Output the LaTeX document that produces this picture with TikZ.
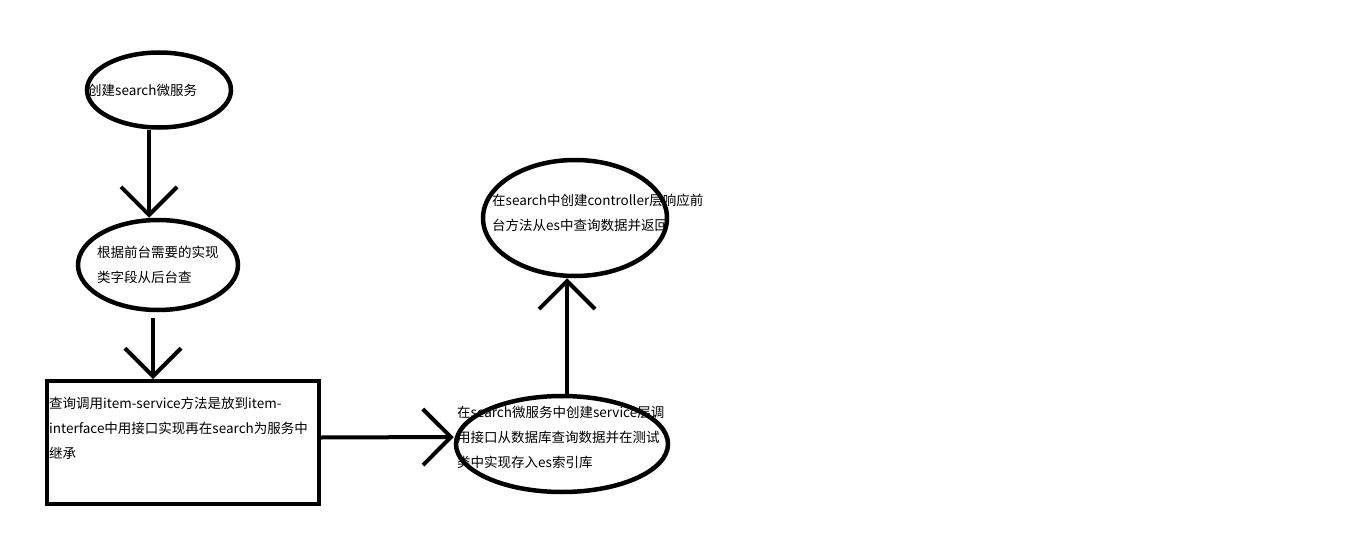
\documentclass[tikz,border=0pt]{standalone}
\usepackage{fontspec}
\setmainfont{Noto Sans CJK SC}
\usepackage{tikz}
\usetikzlibrary{shapes.geometric,arrows.meta}

\begin{document}
\begin{tikzpicture}[x=1pt,y=-1pt,oval/.style n args={2}{ellipse,draw,line width=4.5pt,minimum width=#1pt,minimum height=#2pt,inner sep=0pt},txt/.style={anchor=west,inner sep=0pt,align=left,font=\fontsize{13.5}{25}\selectfont},arr/.style={line width=4pt,-{Straight Barb[length=28pt,width=56pt,line width=4pt]}}]
\useasboundingbox (0,0) rectangle (1360,543);
\foreach \n/\x/\y/\w/\h in %
{create/159/90/144/75,fields/158/265/160/90,service/562/444/212/96,controller/575/218/184/116} {
   \node[oval={\w}{\h}] (\n) at (\x,\y) {};
}
\node[draw,line width=4pt,minimum width=272pt,minimum height=123pt,inner sep=0pt] (query) at (183,442.5) {};
\node[txt] (createtxt) at (88,90) {创建search微服务};
\node[txt] (fieldstxt) at (97,264.5) {根据前台需要的实现\\类字段从后台查};
\node[txt] (querytxt) at (49,428) {查询调用item-service方法是放到item-\\interface中用接口实现再在search为服务中\\继承};
\node[txt] (servicetxt) at (457,437) {在search微服务中创建service层调\\用接口从数据库查询数据并在测试\\类中实现存入es索引库};
\node[txt] (controllertxt) at (492,213) {在search中创建controller层响应前\\台方法从es中查询数据并返回};
\draw[arr] ([xshift=-10pt]create.south) -- ([xshift=-10pt]create.south |- fields.north);
\draw[arr] ([xshift=-5pt,yshift=-6pt]fields.south) -- ([xshift=-5pt]fields.south |- query.north);
\draw[arr] ([yshift=5pt]query.east) -- ([yshift=7pt]service.west);
\draw[arr] ([xshift=5pt]service.north) -- ([xshift=5pt]service.north |- controller.south);
\end{tikzpicture}
\end{document}
